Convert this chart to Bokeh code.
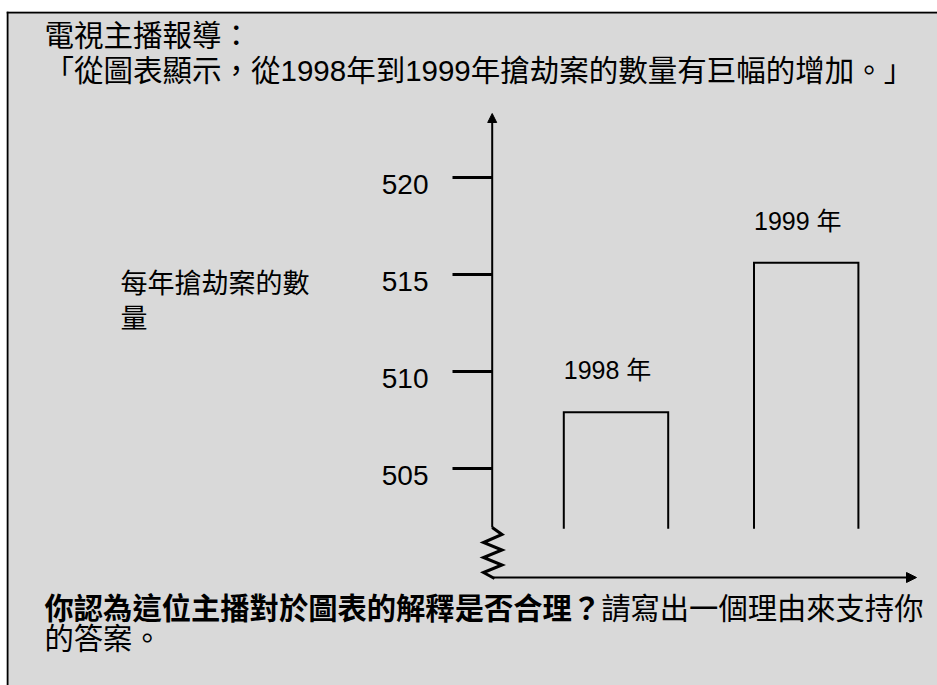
from bokeh.plotting import figure
from bokeh.models import Range1d, Arrow, NormalHead, ColumnDataSource
from bokeh.embed import file_html
from bokeh.resources import INLINE
from bokeh.core.properties import value

# ---------------- data ----------------
years = [1998, 1999]
robberies = [507.9, 515.6]
bar_labels = ["1998 年", "1999 年"]
tick_values = [505, 510, 515, 520]
tick_labels = ["505", "510", "515", "520"]
y_axis_title = ["每年搶劫案的數", "量"]
title_lines = ["電視主播報導：",
               "「從圖表顯示，從1998年到1999年搶劫案的數量有巨幅的增加。」"]
question_bold = "你認為這位主播對於圖表的解釋是否合理？"
question_rest = "請寫出一個理由來支持你"
question_line2 = "的答案。"

# ---------------- layout ----------------
W, H = 937, 685
PAGE_L, PAGE_T = 6, 11          # frame (grey box) top-left on the page
PAGE_R, PAGE_B = W, H

Y_REF_VAL, Y_REF_PX, PX_PER_UNIT = 520, 177, 19.4
y_start = Y_REF_VAL - (PAGE_B - Y_REF_PX) / PX_PER_UNIT
y_end = Y_REF_VAL + (Y_REF_PX - PAGE_T) / PX_PER_UNIT

YEAR_PX0, PX_PER_YEAR = 615.5, 190.2
yr_start = years[0] - (YEAR_PX0 - PAGE_L) / PX_PER_YEAR
yr_end = yr_start + (PAGE_R - PAGE_L) / PX_PER_YEAR

BAR_HALF = 52.2 / PX_PER_YEAR
BAR_BASE = 501.9

CJK = "Noto Sans CJK TC"
MIX = "Liberation Sans, Noto Sans CJK TC"

p = figure(width=W, height=H, output_backend="svg", toolbar_location=None,
           x_range=Range1d(PAGE_L, PAGE_R), y_range=Range1d(y_start, y_end),
           x_axis_type=None, y_axis_type=None,
           min_border=0, min_border_top=PAGE_T, min_border_left=PAGE_L)
p.extra_x_ranges = {"year": Range1d(yr_start, yr_end)}
p.extra_y_ranges = {"page": Range1d(PAGE_B, PAGE_T)}
p.background_fill_color = "#d9d9d9"
p.border_fill_color = "white"
p.outline_line_color = None
p.grid.visible = False

# box border (top and left)
p.segment(x0=[PAGE_L, PAGE_L + 1], y0=[PAGE_T + 1, PAGE_T], x1=[PAGE_R, PAGE_L + 1],
          y1=[PAGE_T + 1, PAGE_B], y_range_name="page", line_width=2, line_color="black")

# vertical axis with arrow
AX_X = 491.7
p.add_layout(Arrow(end=NormalHead(size=9, fill_color="black", line_color="black"),
                   x_start=AX_X, y_start=527, x_end=AX_X, y_end=113,
                   y_range_name="page", line_width=2, line_color="black"))
# horizontal axis with arrow
p.add_layout(Arrow(end=NormalHead(size=10, fill_color="black", line_color="black"),
                   x_start=493, y_start=577, x_end=916, y_end=577,
                   y_range_name="page", line_width=2, line_color="black"))

# axis break zigzag
zig_x = [AX_X, 501.5, 483, 501.5, 483, 501.5, 483, 494]
zig_y = [527, 534, 542, 549.5, 557, 564.5, 572, 578]
p.line(zig_x, zig_y, y_range_name="page", line_width=3, line_color="black",
       line_join="miter")

# ticks and tick labels
tsrc = ColumnDataSource(dict(y=tick_values, label=tick_labels))
p.segment(x0=452, x1=AX_X, y0="y", y1="y", source=tsrc, line_width=3, line_color="black")
p.text(x=428, y="y", text="label", source=tsrc, text_align="right",
       text_baseline="alphabetic", y_offset=7, text_font=value("Liberation Sans"),
       text_font_size="28px", text_color="black")

# bars (open at the bottom)
bsrc = ColumnDataSource(dict(
    xs=[[yr - BAR_HALF, yr - BAR_HALF, yr + BAR_HALF, yr + BAR_HALF] for yr in years],
    ys=[[BAR_BASE, v, v, BAR_BASE] for v in robberies],
))
p.multi_line(xs="xs", ys="ys", source=bsrc, x_range_name="year", line_width=2,
             line_color="black", line_join="miter")
lsrc = ColumnDataSource(dict(x=[yr - BAR_HALF for yr in years], y=robberies, t=bar_labels))
p.text(x="x", y="y", text="t", source=lsrc, x_range_name="year", y_offset=-42,
       text_baseline="alphabetic", text_font=value(MIX), text_font_size="25px",
       text_color="black")

# title lines
p.text(x=[44, 44], y=[35, 70], text=title_lines, y_range_name="page",
       text_baseline="alphabetic", text_font=value(MIX), text_font_size="29.5px",
       text_color="black")

# y axis title
p.text(x=[120, 120], y=[281, 316], text=y_axis_title, y_range_name="page",
       text_baseline="alphabetic", text_font=value(CJK), text_font_size="27px",
       text_color="black")

# question text
QFS = 29.3
p.text(x=[44], y=[605], text=[question_bold], y_range_name="page",
       text_baseline="alphabetic", text_font=value(CJK), text_font_size=f"{QFS}px",
       text_font_style="bold", text_color="black")
p.text(x=[44 + len(question_bold) * QFS, 44], y=[605, 635],
       text=[question_rest, question_line2],
       y_range_name="page", text_baseline="alphabetic", text_font=value(CJK),
       text_font_size=f"{QFS}px", text_color="black")

open("out.html", "w").write(file_html(p, INLINE))
